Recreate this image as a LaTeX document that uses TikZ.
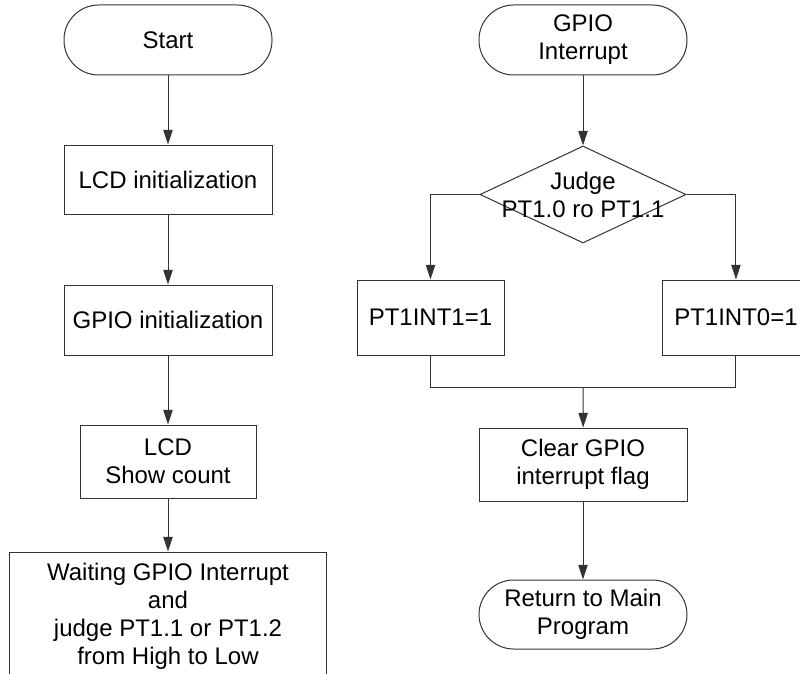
\documentclass[tikz,border=0pt]{standalone}
\usepackage{fontspec}
\setmainfont{Liberation Sans}
\usetikzlibrary{arrows.meta,positioning,shapes.geometric,calc}

\begin{document}
\begin{tikzpicture}[node distance=52.5pt,>={Triangle[length=11pt,width=7pt]},
  every node/.style={font=\fontsize{18pt}{21pt}\selectfont,align=center},
  term/.style={draw=black!80,line width=0.75pt,rounded corners=26pt,minimum width=156pt,minimum height=52.5pt},
  proc/.style={draw=black!80,line width=0.75pt,minimum width=156pt,minimum height=52.5pt},
  line/.style={draw=black!80,line width=0.75pt}]
\useasboundingbox (0,0) rectangle (600pt,-505.5pt);
% main program
\node[term] (start) at (126pt,-30pt) {Start};
\node[proc,below=51.75pt of start,minimum height=51.75pt] (lcd) {LCD initialization};
\node[proc,below=of lcd] (gpio) {GPIO initialization};
\node[proc,below=51.75pt of gpio,minimum width=132pt,minimum height=54.75pt] (show) {LCD\\Show count};
\node[proc,below=39.75pt of show,minimum width=237.75pt,minimum height=96pt] (wait) {Waiting GPIO Interrupt\\and\\judge PT1.1 or PT1.2\\from High to Low};
\draw[line,->] (start) -- (lcd);
\draw[line,->] (lcd) -- (gpio);
\draw[line,->] (gpio) -- (show);
\draw[line,->] (show) -- (wait);
% interrupt routine
\node[term] (gint) at (437.25pt,-30pt) {GPIO\\Interrupt};
\node[draw=black!80,line width=0.75pt,diamond,inner sep=0pt,minimum width=154.5pt,minimum height=72.75pt,below=of gint,label={center:Judge\\PT1.0 ro PT1.1}] (judge) {};
\node[proc,below=63.75pt of judge.west,xshift=-36.75pt,minimum width=110.25pt,minimum height=56.25pt] (int1) {PT1INT1=1};
\node[proc,below=63.75pt of judge.east,xshift=37.1pt,minimum width=110.25pt,minimum height=56.25pt] (int0) {PT1INT0=1};
\node[proc,below=138pt of judge,minimum height=54.75pt] (clr) {Clear GPIO\\interrupt flag};
\node[term,below=58.5pt of clr,minimum height=51.75pt] (ret) {Return to Main\\Program};
\coordinate (j) at ($(int1.south)!0.5!(int0.south)+(0,-24pt)$);
\draw[line,->] (gint) -- (judge);
\draw[line,->] (judge.west) -| (int1);
\draw[line,->] (judge.east) -| (int0);
\draw[line] (int1.south) |- (j) -| (int0.south);
\draw[line,->] (j) -- (clr);
\draw[line,->] (clr) -- (ret);
\end{tikzpicture}
\end{document}
